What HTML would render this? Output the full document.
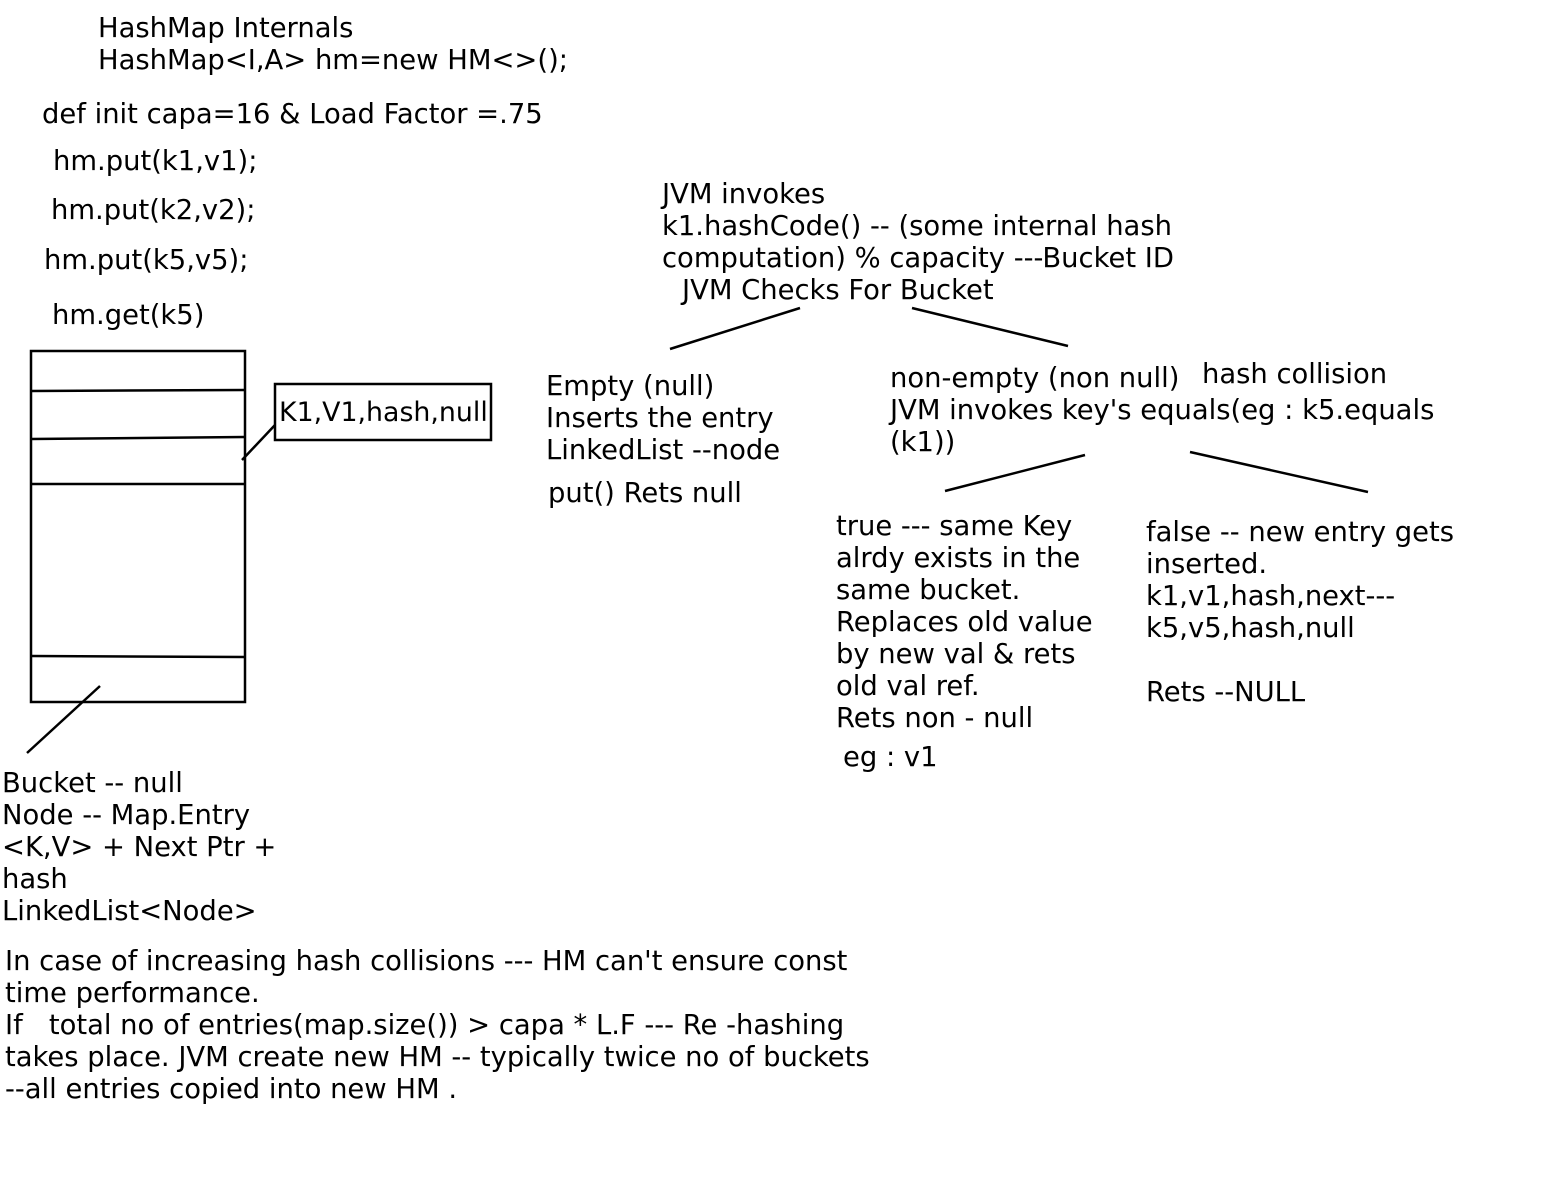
<!DOCTYPE html>
<html><head><meta charset="utf-8"><style>
html,body{margin:0;padding:0;background:#fff;}
body{width:1549px;height:1177px;position:relative;overflow:hidden;font-family:"DejaVu Sans","Liberation Sans",sans-serif;font-size:27.4px;color:#000;}
.t{position:absolute;line-height:32px;white-space:pre;}
svg{position:absolute;left:0;top:0;}
</style></head><body>
<svg width="1549" height="1177">
<g stroke="#000" stroke-width="2.5" fill="none">
<rect x="31" y="351" width="214" height="351"/>
<line x1="31" y1="391" x2="245" y2="390"/>
<line x1="31" y1="439" x2="245" y2="437"/>
<line x1="31" y1="484" x2="245" y2="484"/>
<line x1="31" y1="656" x2="245" y2="657"/>
<rect x="275" y="384" width="216" height="56"/>
<line x1="275" y1="425" x2="242" y2="460"/>
<line x1="100" y1="686" x2="27" y2="753"/>
<line x1="800" y1="308" x2="670" y2="349"/>
<line x1="912" y1="308" x2="1068" y2="346"/>
<line x1="1085" y1="455" x2="945" y2="491"/>
<line x1="1190" y1="452" x2="1368" y2="492"/>
</g></svg>
<div class="t" style="left:98px;top:13px">HashMap Internals</div>
<div class="t" style="left:98px;top:45px">HashMap&lt;I,A&gt; hm=new HM&lt;&gt;();</div>
<div class="t" style="left:42px;top:99px">def init capa=16 &amp; Load Factor =.75</div>
<div class="t" style="left:53px;top:146px">hm.put(k1,v1);</div>
<div class="t" style="left:51px;top:195px">hm.put(k2,v2);</div>
<div class="t" style="left:44px;top:245px">hm.put(k5,v5);</div>
<div class="t" style="left:52px;top:300px">hm.get(k5)</div>
<div class="t" style="left:662px;top:179px">JVM invokes
k1.hashCode() -- (some internal hash
computation) % capacity ---Bucket ID</div>
<div class="t" style="left:682px;top:275px">JVM Checks For Bucket</div>
<div class="t" style="left:546px;top:371px">Empty (null)
Inserts the entry
LinkedList --node</div>
<div class="t" style="left:548px;top:478px">put() Rets null</div>
<div class="t" style="left:890px;top:363px">non-empty (non null)</div>
<div class="t" style="left:1202px;top:359px">hash collision</div>
<div class="t" style="left:890px;top:395px">JVM invokes key's equals(eg : k5.equals
(k1))</div>
<div class="t" style="left:836px;top:511px">true --- same Key
alrdy exists in the
same bucket.
Replaces old value
by new val &amp; rets
old val ref.
Rets non - null</div>
<div class="t" style="left:843px;top:742px">eg : v1</div>
<div class="t" style="left:1146px;top:517px">false -- new entry gets
inserted.
k1,v1,hash,next---
k5,v5,hash,null</div>
<div class="t" style="left:1146px;top:677px">Rets --NULL</div>
<div class="t" style="left:279px;top:397px;font-size:26.8px">K1,V1,hash,null</div>
<div class="t" style="left:2px;top:768px">Bucket -- null
Node -- Map.Entry
&lt;K,V&gt; + Next Ptr +
hash
LinkedList&lt;Node&gt;</div>
<div class="t" style="left:5px;top:946px">In case of increasing hash collisions --- HM can't ensure const
time performance.
If   total no of entries(map.size()) &gt; capa * L.F --- Re -hashing
takes place. JVM create new HM -- typically twice no of buckets
--all entries copied into new HM .</div>
</body></html>
